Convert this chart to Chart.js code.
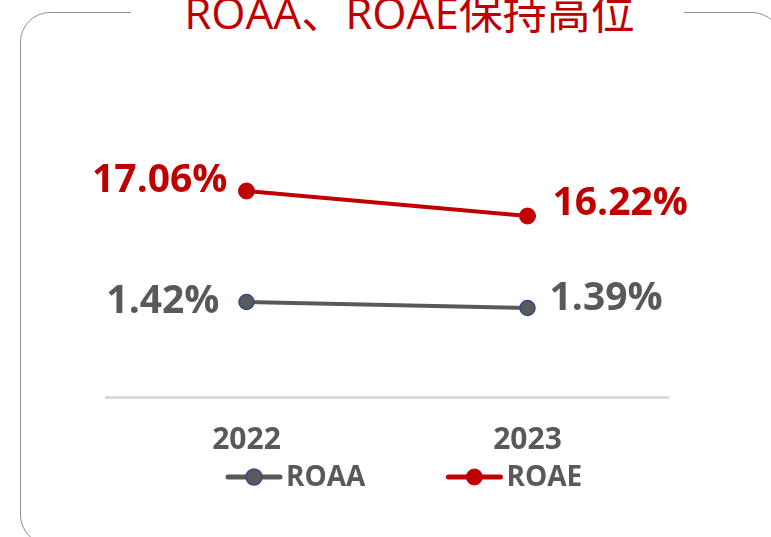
<!DOCTYPE html>
<html>
<head>
<meta charset="utf-8">
<script src="https://cdn.jsdelivr.net/npm/chart.js@4/dist/chart.umd.min.js"></script>
<style>
  html, body { margin: 0; padding: 0; background: #fff; overflow: hidden; }
  #wrap { position: relative; width: 771px; height: 537px; overflow: hidden; }
  #frame {
    position: absolute; left: 20px; top: 12px; width: 762px; height: 533px;
    border: 1px solid #8f8f8f; border-radius: 30px; box-sizing: border-box;
  }
  #title {
    position: absolute; left: 131px; width: 553px; top: -10px; height: 44px;
    line-height: 44px; text-align: center; background: #fff;
    font-family: "Open Sans", "Noto Sans CJK SC", sans-serif; font-size: 44px;
    color: #C00000; white-space: nowrap; text-indent: 4px;
  }
  #chart { position: absolute; left: 0; top: 0; }
</style>
</head>
<body>
<div id="wrap">
  <div id="frame"></div>
  <div id="title">ROAA、ROAE保持高位</div>
  <canvas id="chart" width="771" height="537"></canvas>
</div>
<script>
// ---- data ----
const years = ['2022', '2023'];
const roaa = [1.42, 1.39];
const roae = [17.06, 16.22];

const RED = '#C00000';
const GREY = '#595959';
const FONT = '"Open Sans", "Noto Sans", sans-serif';

// value labels next to each point
const valueLabels = {
  id: 'valueLabels',
  afterDatasetsDraw(chart, args, opts) {
    const ctx = chart.ctx;
    chart.data.datasets.forEach((ds, di) => {
      const meta = chart.getDatasetMeta(di);
      const offs = opts.offsets[ds.label];
      meta.data.forEach((pt, i) => {
        const [dx, dy] = offs[i];
        ctx.save();
        ctx.font = 'bold 39px ' + FONT;
        ctx.fillStyle = ds.labelColor;
        ctx.textAlign = dx < 0 ? 'right' : 'left';
        ctx.textBaseline = 'middle';
        ctx.fillText(ds.data[i].toFixed(2) + '%', pt.x + dx, pt.y + dy);
        ctx.restore();
      });
    });
  }
};

// legend row: line + marker, then name
const legendRow = {
  id: 'legendRow',
  afterDraw(chart, args, opts) {
    const ctx = chart.ctx;
    let x = opts.x;
    const y = opts.y;
    chart.data.datasets.forEach(ds => {
      ctx.save();
      ctx.strokeStyle = ds.borderColor;
      ctx.lineWidth = 5;
      ctx.lineCap = 'round';
      ctx.beginPath();
      ctx.moveTo(x + 2, y);
      ctx.lineTo(x + 54, y);
      ctx.stroke();
      ctx.beginPath();
      ctx.arc(x + 28, y, 8, 0, Math.PI * 2);
      ctx.fillStyle = ds.pointBackgroundColor;
      ctx.fill();
      ctx.lineWidth = ds.pointBorderWidth;
      ctx.strokeStyle = ds.pointBorderColor;
      ctx.stroke();
      ctx.font = 'bold 28px ' + FONT;
      ctx.fillStyle = GREY;
      ctx.textBaseline = 'middle';
      ctx.fillText(ds.label, x + 60, y + 1);
      const w = ctx.measureText(ds.label).width;
      ctx.restore();
      x += 60 + w + 81;
    });
  }
};

new Chart(document.getElementById('chart'), {
  type: 'line',
  data: {
    labels: years,
    datasets: [
      {
        label: 'ROAA',
        data: roaa,
        yAxisID: 'y1',
        borderColor: GREY,
        borderWidth: 4,
        pointRadius: 7.5,
        pointBackgroundColor: GREY,
        pointBorderColor: '#2F4B8C',
        pointBorderWidth: 1.5,
        labelColor: GREY,
        clip: false
      },
      {
        label: 'ROAE',
        data: roae,
        yAxisID: 'y',
        borderColor: RED,
        borderWidth: 4,
        pointRadius: 8,
        pointBackgroundColor: RED,
        pointBorderColor: RED,
        pointBorderWidth: 1,
        labelColor: RED,
        clip: false
      }
    ]
  },
  options: {
    responsive: false,
    animation: false,
    layout: { padding: { left: 106, right: 103, top: 60, bottom: 0 } },
    plugins: {
      legend: { display: false },
      tooltip: { enabled: false },
      valueLabels: {
        offsets: {
          ROAE: [[-19, -10], [25, -12]],
          ROAA: [[-27, 0], [22, -9]]
        }
      },
      legendRow: { x: 226, y: 477 }
    },
    scales: {
      x: {
        offset: true,
        grid: { display: false, drawTicks: false },
        border: { display: true, color: '#d9d9d9', width: 3 },
        ticks: { color: GREY, font: { family: FONT, size: 30, weight: 'bold' }, padding: 25 },
        afterFit: s => { s.height = 140; }
      },
      y: { display: false, min: 10.14, max: 21.46 },
      y1: { display: false, min: 0.945, max: 2.63 }
    }
  },
  plugins: [valueLabels, legendRow]
});
</script>
</body>
</html>
